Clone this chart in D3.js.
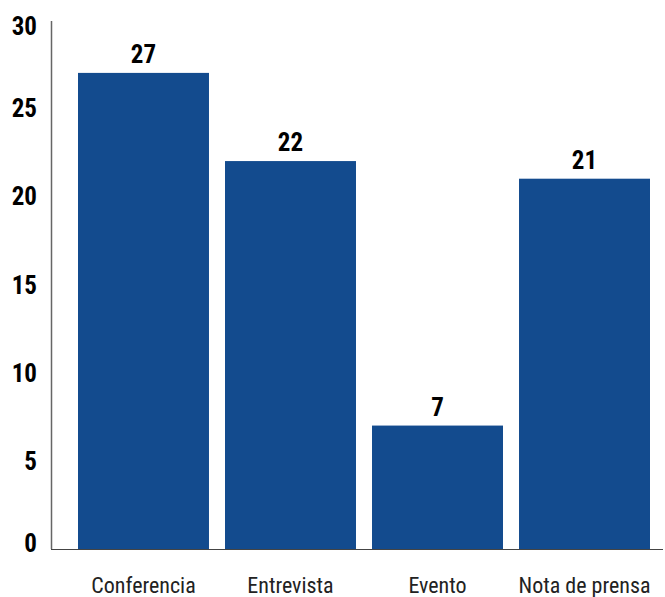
<!DOCTYPE html>
<html>
<head>
<meta charset="utf-8">
<script src="https://cdn.jsdelivr.net/npm/d3@7"></script>
<style>
  body { margin: 0; background: #fff; }
  text { font-family: "Liberation Sans Narrow", "Roboto Condensed", "DejaVu Sans Condensed", sans-serif; }
</style>
</head>
<body>
<div id="chart"></div>
<script>
var categories = ["Conferencia", "Entrevista", "Evento", "Nota de prensa"];
var values = [27, 22, 7, 21];
var yTicks = [0, 5, 10, 15, 20, 25, 30];

var width = 665, height = 597;

var svg = d3.select("#chart").append("svg")
    .attr("width", width)
    .attr("height", height);

var y = d3.scaleLinear().domain([0, 30]).range([549, 20]);
var x = d3.scaleBand().domain(categories).range([78, 650]).paddingInner(0.109);

// bars
svg.selectAll("rect.bar")
  .data(values)
  .enter().append("rect")
  .attr("class", "bar")
  .attr("x", function (d, i) { return x(categories[i]); })
  .attr("width", x.bandwidth())
  .attr("y", function (d) { return y(d); })
  .attr("height", function (d) { return y(0) - y(d); })
  .style("fill", "#134b8e");

// value labels
svg.selectAll("text.val")
  .data(values)
  .enter().append("text")
  .attr("class", "val")
  .attr("x", function (d, i) { return x(categories[i]) + x.bandwidth() / 2; })
  .attr("y", function (d) { return y(d) - 10; })
  .attr("text-anchor", "middle")
  .style("font-size", "25px")
  .style("font-weight", "bold")
  .style("fill", "#000")
  .text(function (d) { return d; });

// y axis line
svg.append("line")
  .attr("x1", 51.5).attr("x2", 51.5)
  .attr("y1", 21).attr("y2", y(0))
  .style("stroke", "#666").style("stroke-width", 1.5);

// x baseline
svg.append("line")
  .attr("x1", 51).attr("x2", 663)
  .attr("y1", y(0) + 0.5).attr("y2", y(0) + 0.5)
  .style("stroke", "#444").style("stroke-width", 1.2);

// y tick labels
svg.selectAll("text.ytick")
  .data(yTicks)
  .enter().append("text")
  .attr("class", "ytick")
  .attr("x", 37)
  .attr("y", function (d) {
    if (d === 30) return y(d) + 15;
    if (d === 0) return y(d) + 3;
    return y(d) + 9;
  })
  .attr("text-anchor", "end")
  .style("font-size", "25px")
  .style("font-weight", "bold")
  .style("fill", "#000")
  .text(function (d) { return d; });

// category labels
svg.selectAll("text.cat")
  .data(categories)
  .enter().append("text")
  .attr("class", "cat")
  .attr("x", function (d) { return x(d) + x.bandwidth() / 2; })
  .attr("y", 593)
  .attr("text-anchor", "middle")
  .style("font-size", "22px")
  .style("fill", "#222")
  .text(function (d) { return d; });
</script>
</body>
</html>
